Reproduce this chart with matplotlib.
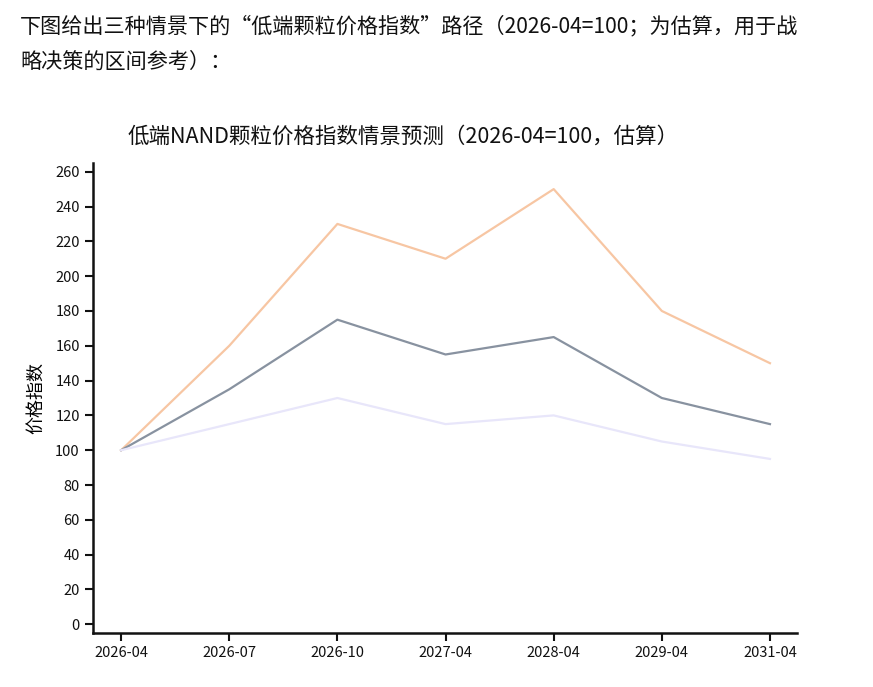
import matplotlib
matplotlib.use("Agg")
import matplotlib.pyplot as plt

plt.rcParams['font.family'] = ['Noto Sans CJK SC', 'DejaVu Sans']

# 情景数据（2026-04=100）
periods = ['2026-04', '2026-07', '2026-10', '2027-04', '2028-04', '2029-04', '2031-04']
optimistic = [100, 160, 230, 210, 250, 180, 150]
base = [100, 135, 175, 155, 165, 130, 115]
pessimistic = [100, 115, 130, 115, 120, 105, 95]
yticks = list(range(0, 261, 20))

fig = plt.figure(figsize=(8.73, 6.87), dpi=100)
fig.text(20 / 873, 1 - 26 / 687, '下图给出三种情景下的“低端颗粒价格指数”路径（2026-04=100；为估算，用于战',
         fontsize=15.2, va='center', ha='left', color='#111111')
fig.text(20 / 873, 1 - 62 / 687, '略决策的区间参考）：',
         fontsize=15.2, va='center', ha='left', color='#111111')
fig.text(403 / 873, 1 - 137 / 687, '低端NAND颗粒价格指数情景预测（2026-04=100，估算）',
         fontsize=15.5, va='center', ha='center', color='#111111')

ax = fig.add_axes([93 / 873, 1 - 633 / 687, (797 - 93) / 873, (633 - 163) / 687])
x = range(len(periods))
ax.plot(x, optimistic, color='#f7c6a3', lw=1.6)
ax.plot(x, base, color='#8892a0', lw=1.6)
ax.plot(x, pessimistic, color='#e8e6fa', lw=1.6)

ax.set_xlim(-0.26, 6.25)
ax.set_ylim(-5, 265)
ax.set_xticks(list(x))
ax.set_xticklabels(periods)
ax.set_yticks(yticks)
ax.tick_params(labelsize=10.5, length=6, width=1.5, colors='#111111')
ax.set_ylabel('价格指数', fontsize=13)
ax.yaxis.set_label_coords(-0.068, 0.5)
for s in ['top', 'right']:
    ax.spines[s].set_visible(False)
for s in ['left', 'bottom']:
    ax.spines[s].set_linewidth(1.8)
    ax.spines[s].set_color('#111111')

fig.savefig('out.png', dpi=100)
